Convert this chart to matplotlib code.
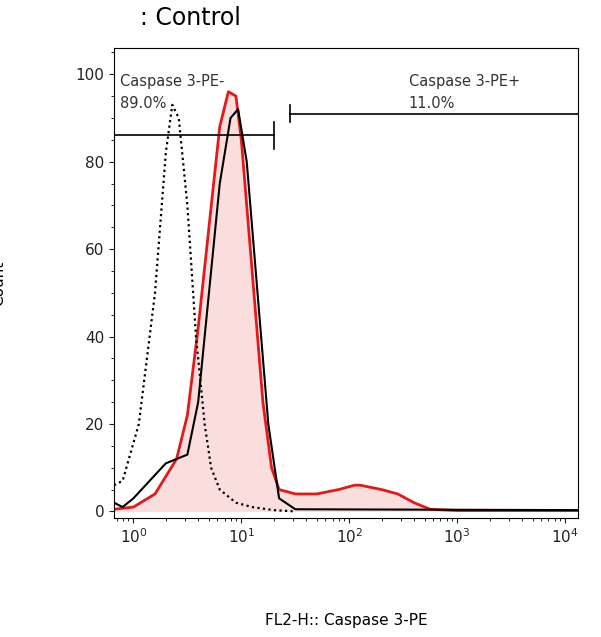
import numpy as np
import matplotlib
matplotlib.use("Agg")
import matplotlib.pyplot as plt

red_lx = [-0.18,0,0.2,0.4,0.5,0.6,0.7,0.8,0.88,0.95,1.0,1.1,1.2,1.28,1.35,1.5,1.7,1.9,2.05,2.1,2.3,2.45,2.6,2.75,3.0,4.12]
red_y  = [0.5,1,4,12,22,42,65,88,96,95,85,55,25,10,5,4,4,5,6,6,5,4,2,0.5,0.2,0.2]
blk_lx = [-0.18,-0.1,0,0.15,0.3,0.4,0.5,0.6,0.7,0.8,0.9,0.97,1.05,1.15,1.25,1.35,1.5,4.12]
blk_y  = [2,1,3,7,11,12,13,25,50,75,90,92,80,50,20,3,0.5,0.3]
dot_lx = [-0.18,-0.1,0.05,0.2,0.3,0.36,0.42,0.5,0.58,0.66,0.72,0.8,0.95,1.1,1.3,1.5]
dot_y  = [6,7,20,50,82,93,90,70,40,20,10,5,2,1,0.3,0]
gates = {"Caspase 3-PE-\n89.0%": (-0.18, 1.3, 86), "Caspase 3-PE+\n11.0%": (1.45, 4.12, 91)}

fig = plt.figure(figsize=(6.01, 6.37), dpi=100)
ax = fig.add_axes([114/601, 1-518/637, 464/601, 470/637])
def X(l): return 10**np.array(l)
ax.fill_between(X(red_lx), red_y, color="#fadede", lw=0)
ax.plot(X(red_lx), red_y, color="#e41a1a", lw=2)
ax.plot(X(blk_lx), blk_y, color="black", lw=1.5)
ax.plot(X(dot_lx), dot_y, color="black", lw=1.6, ls=(0,(1,1.5)))
for i,(lab,(a,b,yv)) in enumerate(gates.items()):
    ax.plot([10**a,10**b],[yv,yv],color="black",lw=1.2)
    if i==0:
        ax.plot([10**b]*2,[yv-3,yv+3],color="black",lw=1.2)
        ax.text(10**-0.12, 100, lab, fontsize=10.5, va="top", color="#333", linespacing=1.6)
    else:
        ax.plot([10**a]*2,[yv-2,yv+2],color="black",lw=1.2)
        ax.text(10**2.55, 100, lab, fontsize=10.5, va="top", color="#333", linespacing=1.6)
ax.set_xscale("log")
ax.set_xlim(10**-0.18, 10**4.12)
ax.set_ylim(-1.5, 106)
ax.set_yticks([0,20,40,60,80,100])
ax.set_yticks(np.arange(0,106,5), minor=True)
ax.set_xticks([1,10,100,1000,10000])
ax.tick_params(labelsize=11, colors="#222")
ax.set_ylabel("Count", fontsize=11, labelpad=50)
ax.set_xlabel("FL2-H:: Caspase 3-PE", fontsize=11, labelpad=48)
fig.text(140/601, 1-18/637, ": Control", fontsize=17, va="center")
fig.savefig("out.png")
